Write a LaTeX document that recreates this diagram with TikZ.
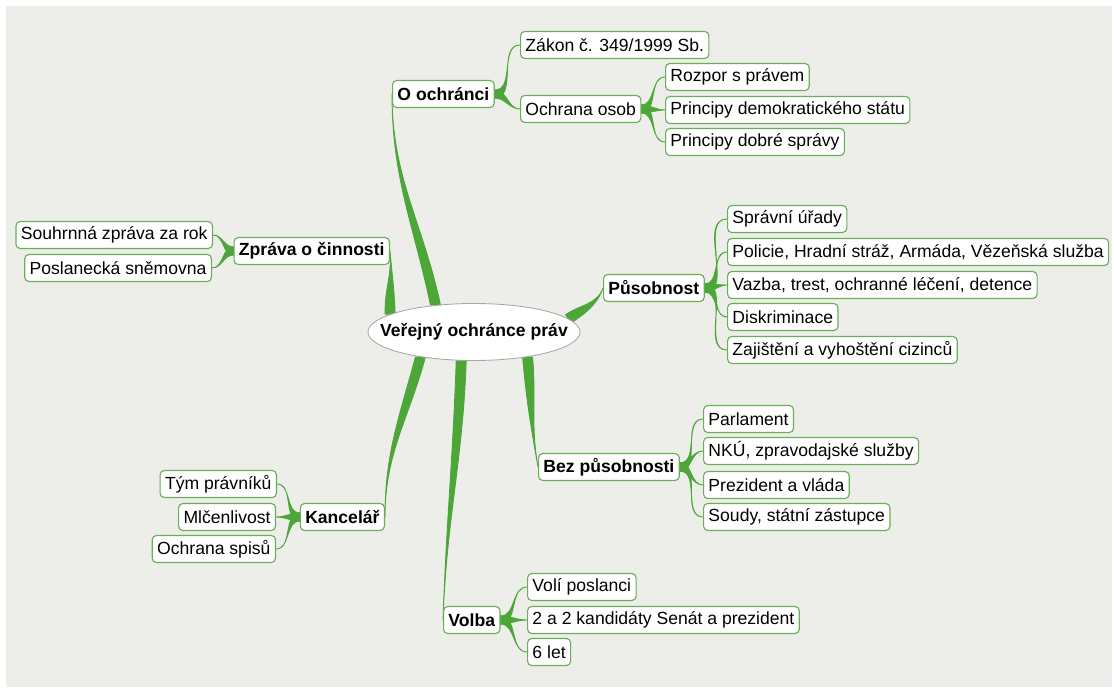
\documentclass[tikz,border=0pt]{standalone}
\usepackage{fontspec}
\setmainfont{Liberation Sans}
\usetikzlibrary{shapes.geometric}
\usetikzlibrary{calc}
\definecolor{limbc}{RGB}{76,166,56}
\definecolor{boxc}{RGB}{104,176,88}
\definecolor{paper}{RGB}{237,237,233}
\pgfdeclarelayer{back}
\pgfsetlayers{back,main}
\tikzset{
    leaf/.style = {rectangle, rounded corners=3pt, draw=boxc, fill=white, line width=0.8pt, minimum height=0.675cm, inner xsep=3.5pt, inner ysep=0pt, font=\fontsize{12.5}{14}\selectfont},
    topic/.style = {leaf, font=\fontsize{12.5}{14}\selectfont\bfseries},
    hub/.style = {ellipse, draw=black!35, fill=white, line width=0.6pt, minimum width=5.3cm, minimum height=1.425cm, inner sep=0pt, font=\fontsize{12.5}{14}\selectfont\bfseries},
    limb/.style = {fill=limbc, draw=limbc, line width=0.6pt, line join=round}
}
\newcommand{\limb}[5]{%
  \fill[limb] ($(#1)+(#5)$) to[out=#3,in=#4] (#2) to[out=#4,in=#3] ($(#1)-(#5)$) -- cycle;
}

\begin{document}
\begin{tikzpicture}[x=0.025cm, y=0.025cm]
\useasboundingbox (0,0) rectangle (1114,687);
\node[hub] at (474,355) (ctr) {\makebox[0pt]{Veřejný ochránce práv}};
%
\node[topic, anchor=west] at (392,593) (ooc) {O ochránci};
\node[leaf, anchor=west] at (520,642) (zak) {Zákon č. 349/1999 Sb.};
\node[leaf, anchor=west] at (520,578) (osb) {Ochrana osob};
\node[leaf, anchor=west] at (665,610) (roz) {Rozpor s právem};
\node[leaf, anchor=west] at (665,577) (dem) {Principy demokratického státu};
\node[leaf, anchor=west] at (665,545) (dob) {Principy dobré správy};
%
\node[topic, anchor=west] at (603,399) (pus) {Působnost};
\node[leaf, anchor=west] at (727,468) (spr) {Správní úřady};
\node[leaf, anchor=west] at (727,435) (pol) {Policie, Hradní stráž, Armáda, Vězeňská služba};
\node[leaf, anchor=west] at (727,402) (vaz) {Vazba, trest, ochranné léčení, detence};
\node[leaf, anchor=west] at (727,370) (dis) {Diskriminace};
\node[leaf, anchor=west] at (727,337) (zaj) {Zajištění a vyhoštění cizinců};
%
\node[topic, anchor=east] at (390,436) (zpr) {Zpráva o činnosti};
\node[leaf, anchor=east] at (213,452) (shr) {Souhrnná zpráva za rok};
\node[leaf, anchor=east] at (212,419) (psn) {Poslanecká sněmovna};
%
\node[topic, anchor=east] at (385,170) (kan) {Kancelář};
\node[leaf, anchor=east] at (277,203) (tym) {Tým právníků};
\node[leaf, anchor=east] at (276,170) (mlc) {Mlčenlivost};
\node[leaf, anchor=east] at (276,138) (osp) {Ochrana spisů};
%
\node[topic, anchor=west] at (538,220) (bez) {Bez působnosti};
\node[leaf, anchor=west] at (703,268) (par) {Parlament};
\node[leaf, anchor=west] at (703,236) (nku) {NKÚ, zpravodajské služby};
\node[leaf, anchor=west] at (703,202) (pre) {Prezident a vláda};
\node[leaf, anchor=west] at (703,170) (sdy) {Soudy, státní zástupce};
%
\node[topic, anchor=west] at (443,67) (vol) {Volba};
\node[leaf, anchor=west] at (527,100) (vpo) {Volí poslanci};
\node[leaf, anchor=west] at (527,67) (kdt) {2 a 2 kandidáty Senát a prezident};
\node[leaf, anchor=west] at (527,35) (six) {6 let};
%
\begin{pgfonlayer}{back}
\fill[paper] (6,0) rectangle (1112,681);
%
\limb{ctr.145}{ooc.west}{102}{270}{5,0}
\limb{ctr.8}{pus.west}{35}{250}{-3,4}
\limb{ctr.168}{zpr.east}{92}{275}{5,0}
\limb{ctr.205}{kan.east}{255}{90}{5,0}
\limb{ctr.246}{vol.west}{268}{88}{5,0}
\limb{ctr.335}{bez.west}{275}{100}{5,0}
%
\limb{ooc.east}{zak.west}{0}{180}{0,4}
\limb{ooc.east}{osb.west}{0}{180}{0,4}
\limb{osb.east}{roz.west}{0}{180}{0,4}
\limb{osb.east}{dem.west}{0}{180}{0,4}
\limb{osb.east}{dob.west}{0}{180}{0,4}
%
\limb{pus.east}{spr.west}{0}{180}{0,4}
\limb{pus.east}{pol.west}{0}{180}{0,4}
\limb{pus.east}{vaz.west}{0}{180}{0,4}
\limb{pus.east}{dis.west}{0}{180}{0,4}
\limb{pus.east}{zaj.west}{0}{180}{0,4}
%
\limb{zpr.west}{shr.east}{180}{0}{0,4}
\limb{zpr.west}{psn.east}{180}{0}{0,4}
%
\limb{kan.west}{tym.east}{180}{0}{0,4}
\limb{kan.west}{mlc.east}{180}{0}{0,4}
\limb{kan.west}{osp.east}{180}{0}{0,4}
%
\limb{bez.east}{par.west}{0}{180}{0,4}
\limb{bez.east}{nku.west}{0}{180}{0,4}
\limb{bez.east}{pre.west}{0}{180}{0,4}
\limb{bez.east}{sdy.west}{0}{180}{0,4}
%
\limb{vol.east}{vpo.west}{0}{180}{0,4}
\limb{vol.east}{kdt.west}{0}{180}{0,4}
\limb{vol.east}{six.west}{0}{180}{0,4}
\end{pgfonlayer}
\end{tikzpicture}
\end{document}
